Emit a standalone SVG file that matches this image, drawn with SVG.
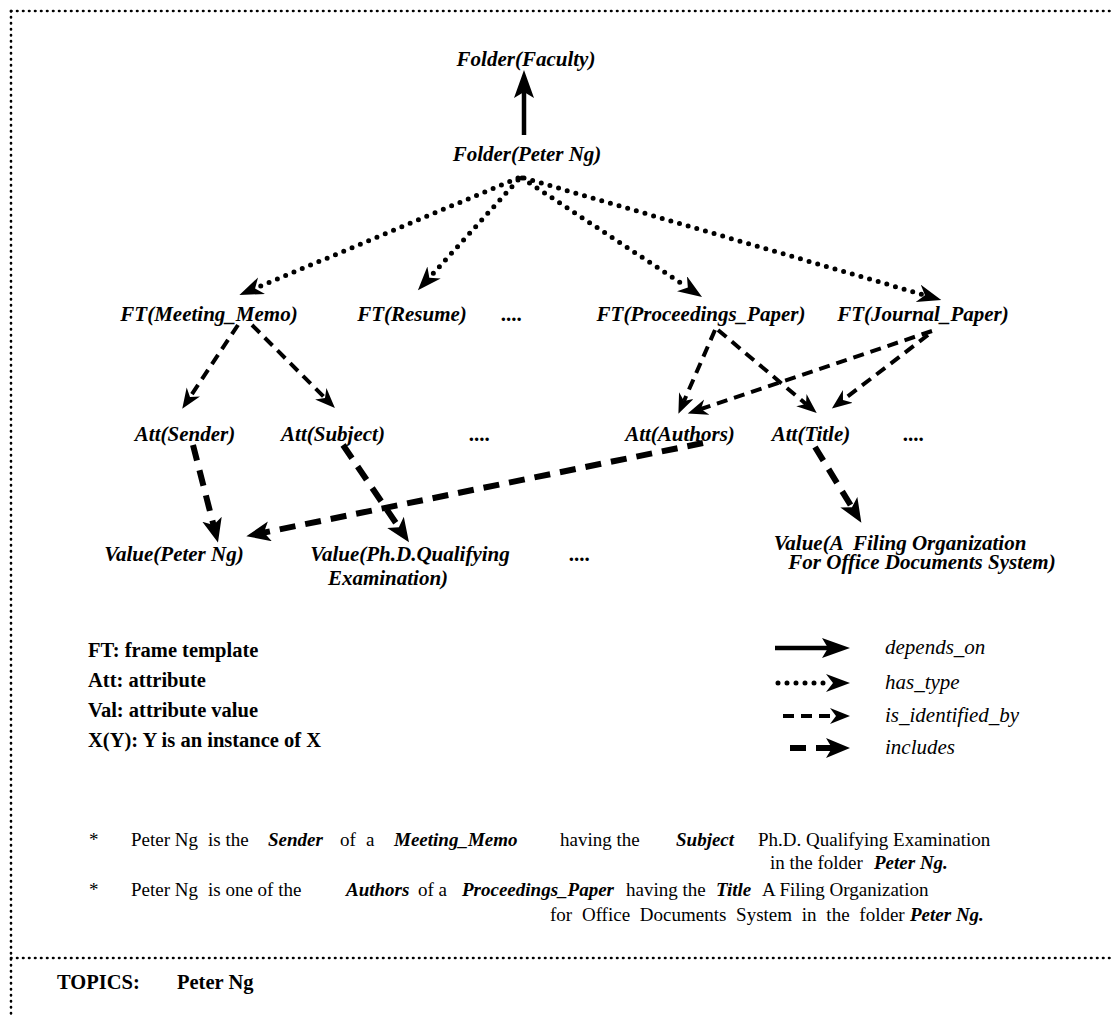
<svg xmlns="http://www.w3.org/2000/svg" width="1111" height="1016" viewBox="0 0 1111 1016">
  <style>
    .node { font-family: "Liberation Serif", "Times New Roman", serif; font-size: 21px; font-weight: bold; font-style: italic; fill: #000; text-anchor: middle; }
    .key { font-family: "Liberation Serif", "Times New Roman", serif; font-size: 20.5px; font-weight: bold; fill: #000; }
    .kind { font-family: "Liberation Serif", "Times New Roman", serif; font-size: 21px; font-style: italic; fill: #000; }
    .note { font-family: "Liberation Serif", "Times New Roman", serif; font-size: 19px; fill: #000; }
    .bi { font-weight: bold; font-style: italic; }
    .frame { fill: none; stroke: #000; stroke-width: 2.6; stroke-linecap: round; stroke-dasharray: 0.5 5.5; }
    .depends { fill: none; stroke: #000; stroke-width: 4.5; marker-end: url(#headSolid); }
    .hastype { fill: none; stroke: #000; stroke-width: 5; stroke-linecap: round; stroke-dasharray: 0 9; marker-end: url(#headDot); }
    .ident { fill: none; stroke: #000; stroke-width: 4; stroke-dasharray: 11 7; marker-end: url(#headThin); }
    .incl { fill: none; stroke: #000; stroke-width: 6; stroke-dasharray: 16 10; marker-end: url(#headThick); }
  </style>
  <defs>
    <marker id="headSolid" markerUnits="userSpaceOnUse" markerWidth="30" markerHeight="22" refX="8" refY="10" orient="auto">
      <path d="M0,0 L28,10 L0,20 L6,10 Z" fill="#000"/>
    </marker>
    <marker id="headDot" markerUnits="userSpaceOnUse" markerWidth="28" markerHeight="20" refX="6" refY="9" orient="auto">
      <path d="M0,0 L24,9 L0,18 L7,9 Z" fill="#000"/>
    </marker>
    <marker id="headThin" markerUnits="userSpaceOnUse" markerWidth="26" markerHeight="20" refX="6" refY="8" orient="auto">
      <path d="M0,0 L20,8 L0,16 L6,8 Z" fill="#000"/>
    </marker>
    <marker id="headThick" markerUnits="userSpaceOnUse" markerWidth="30" markerHeight="22" refX="8" refY="10" orient="auto">
      <path d="M0,0 L24,10 L0,20 L6,10 Z" fill="#000"/>
    </marker>
  </defs>

  <!-- dotted frame and the separator above the topics line -->
  <g id="frame">
    <line class="frame" x1="11" y1="11" x2="1111" y2="11"/>
    <line class="frame" x1="11" y1="11" x2="11" y2="1016"/>
    <line class="frame" x1="11" y1="958" x2="1111" y2="958"/>
  </g>

  <!-- connectors -->
  <g id="connectors">
    <line class="depends" x1="524" y1="135" x2="524" y2="90"/>

    <line class="hastype" x1="518" y1="178" x2="256" y2="288"/>
    <line class="hastype" x1="518" y1="180" x2="430" y2="277"/>
    <line class="hastype" x1="522" y1="178" x2="687" y2="287"/>
    <line class="hastype" x1="524" y1="178" x2="924" y2="295"/>

    <line class="ident" x1="238" y1="325" x2="190" y2="397"/>
    <line class="ident" x1="252" y1="325" x2="325" y2="398"/>
    <line class="ident" x1="715" y1="330" x2="684" y2="401"/>
    <line class="ident" x1="718" y1="330" x2="806" y2="404"/>
    <line class="ident" x1="932" y1="331" x2="701" y2="409"/>
    <line class="ident" x1="928" y1="335" x2="843" y2="400"/>

    <line class="incl" x1="193" y1="445" x2="214" y2="527"/>
    <line class="incl" x1="343" y1="445" x2="400" y2="529"/>
    <line class="incl" x1="703" y1="443" x2="262" y2="533"/>
    <line class="incl" x1="815" y1="447" x2="853" y2="509"/>
  </g>

  <!-- nodes -->
  <g id="folder-faculty"><text class="node" x="526" y="66">Folder(Faculty)</text></g>
  <g id="folder-peter-ng"><text class="node" x="527" y="161">Folder(Peter Ng)</text></g>

  <g id="ft-meeting-memo"><text class="node" x="209" y="321">FT(Meeting_Memo)</text></g>
  <g id="ft-resume"><text class="node" x="412" y="321">FT(Resume)</text></g>
  <g id="ft-more"><text class="node" x="512" y="321">....</text></g>
  <g id="ft-proceedings-paper"><text class="node" x="701" y="321">FT(Proceedings_Paper)</text></g>
  <g id="ft-journal-paper"><text class="node" x="923" y="321">FT(Journal_Paper)</text></g>

  <g id="att-sender"><text class="node" x="185" y="441">Att(Sender)</text></g>
  <g id="att-subject"><text class="node" x="333" y="441">Att(Subject)</text></g>
  <g id="att-more-1"><text class="node" x="480" y="441">....</text></g>
  <g id="att-authors"><text class="node" x="680" y="441">Att(Authors)</text></g>
  <g id="att-title"><text class="node" x="811" y="441">Att(Title)</text></g>
  <g id="att-more-2"><text class="node" x="914" y="441">....</text></g>

  <g id="value-peter-ng"><text class="node" x="174" y="561">Value(Peter Ng)</text></g>
  <g id="value-phd">
    <text class="node" x="410" y="561">Value(Ph.D.Qualifying</text>
    <text class="node" x="388" y="585">Examination)</text>
  </g>
  <g id="value-more"><text class="node" x="580" y="561">....</text></g>
  <g id="value-filing">
    <text class="node" x="900" y="550" xml:space="preserve">Value(A  Filing Organization</text>
    <text class="node" x="922" y="569">For Office Documents System)</text>
  </g>

  <!-- abbreviations -->
  <g id="abbreviations">
    <text class="key" x="88" y="657">FT: frame template</text>
    <text class="key" x="88" y="687">Att: attribute</text>
    <text class="key" x="88" y="717">Val: attribute value</text>
    <text class="key" x="88" y="747">X(Y): Y is an instance of X</text>
  </g>

  <!-- connector kinds -->
  <g id="legend">
    <line class="depends" x1="775" y1="648" x2="830" y2="648"/>
    <line class="hastype" x1="778" y1="683" x2="832" y2="683"/>
    <line class="ident" x1="783" y1="716" x2="836" y2="716"/>
    <line class="incl" x1="790" y1="748" x2="834" y2="748"/>
    <text class="kind" x="885" y="654">depends_on</text>
    <text class="kind" x="885" y="689">has_type</text>
    <text class="kind" x="885" y="722">is_identified_by</text>
    <text class="kind" x="885" y="754">includes</text>
  </g>

  <!-- worked examples -->
  <g id="examples">
    <text class="note" x="89" y="846">*</text>
    <text class="note" y="846"><tspan x="131">Peter Ng</tspan><tspan x="208">is the</tspan><tspan x="268" class="bi">Sender</tspan><tspan x="340">of</tspan><tspan x="366">a</tspan><tspan x="394" class="bi">Meeting_Memo</tspan><tspan x="560">having the</tspan><tspan x="676" class="bi">Subject</tspan><tspan x="758">Ph.D. Qualifying Examination</tspan></text>
    <text class="note" y="869"><tspan x="770">in the folder</tspan><tspan x="874" class="bi">Peter Ng.</tspan></text>
    <text class="note" x="89" y="896">*</text>
    <text class="note" y="896"><tspan x="131">Peter Ng</tspan><tspan x="208">is one of the</tspan><tspan x="346" class="bi">Authors</tspan><tspan x="418">of a</tspan><tspan x="462" class="bi">Proceedings_Paper</tspan><tspan x="626">having the</tspan><tspan x="716" class="bi">Title</tspan><tspan x="762">A Filing Organization</tspan></text>
    <text class="note" y="921"><tspan x="550" word-spacing="5">for Office Documents System in the folder</tspan><tspan x="910" class="bi">Peter Ng.</tspan></text>
  </g>

  <g id="topics">
    <text class="key" x="57" y="989">TOPICS:</text>
    <text class="key" x="177" y="989">Peter Ng</text>
  </g>
</svg>
